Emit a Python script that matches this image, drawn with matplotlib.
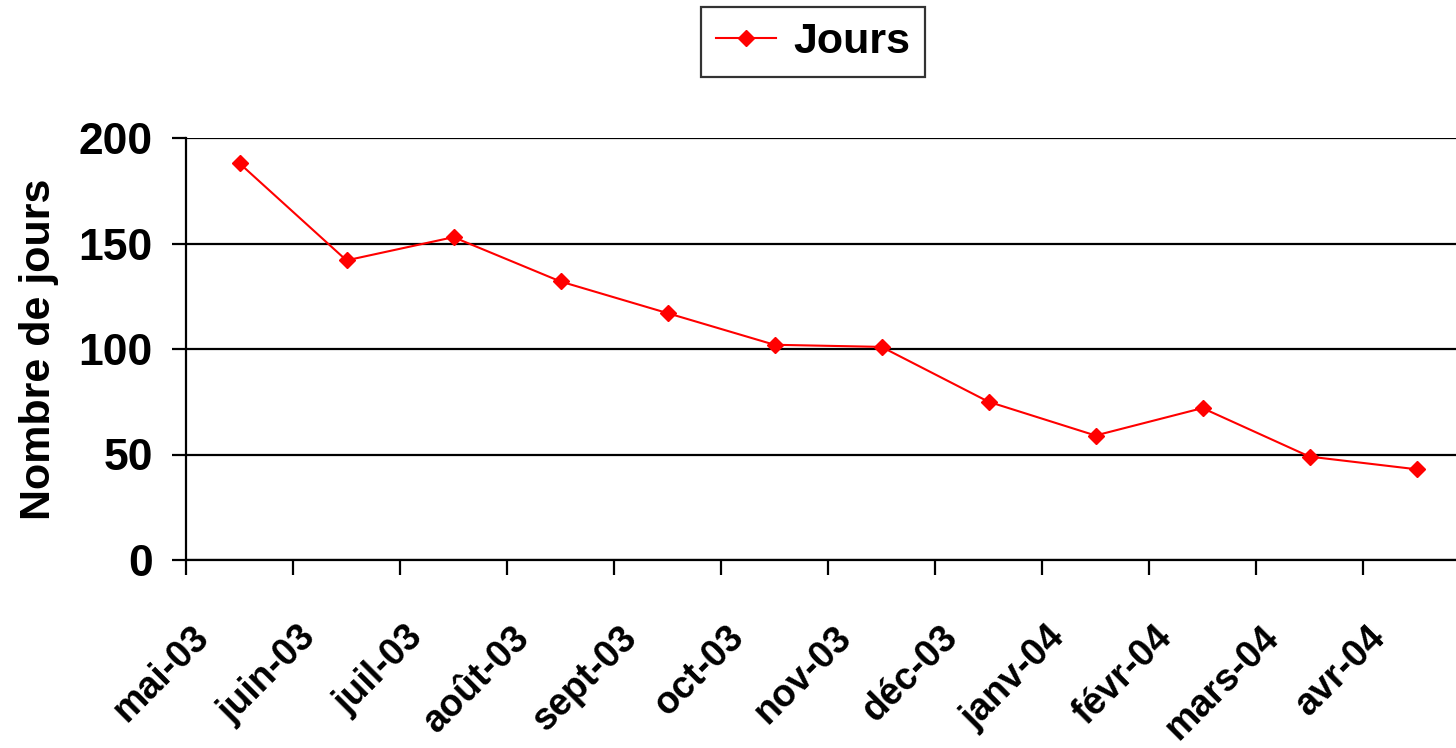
import matplotlib.pyplot as plt
import matplotlib.transforms as mtransforms

months = ["mai-03", "juin-03", "juil-03", "août-03", "sept-03", "oct-03",
          "nov-03", "déc-03", "janv-04", "févr-04", "mars-04", "avr-04"]
jours = [188, 142, 153, 132, 117, 102, 101, 75, 59, 72, 49, 43]

plt.rcParams['font.family'] = ['Liberation Sans', 'DejaVu Sans']
plt.rcParams['font.weight'] = 'bold'

W, H = 1456, 748
fig = plt.figure(figsize=(W / 100, H / 100), dpi=100)
ax = fig.add_axes([186 / W, (H - 560) / H, (W - 186) / W, (560 - 138) / H])

x = list(range(len(months)))
ax.plot(x, jours, color='red', lw=1.5, marker='D', markersize=8,
        label="Jours")

ax.set_xlim(-0.5, -0.5 + (W - 186) / 107)
ax.set_ylim(0, 200)
ax.set_yticks([0, 50, 100, 150, 200])
ax.grid(axis='y', color='black', lw=1.6)
ax.set_axisbelow(True)
for side in ['top', 'right']:
    ax.spines[side].set_visible(False)
ax.spines['left'].set_linewidth(1.6)
ax.spines['bottom'].set_linewidth(1.6)

ax.set_xticks([i - 0.5 for i in range(len(months))])
ax.set_xticklabels([])
ax.tick_params(axis='x', direction='out', length=11, width=1.6)
ax.tick_params(axis='y', direction='out', length=10, width=1.6,
               labelsize=32, pad=14)

offset = mtransforms.ScaledTranslation(-0.36, -0.72, fig.dpi_scale_trans)
trans = ax.get_xaxis_transform() + offset
for i, m in enumerate(months):
    ax.text(i, 0, m, transform=trans, rotation=45, rotation_mode='anchor',
            ha='right', va='center', fontsize=27, fontweight='bold')

ax.set_ylabel("Nombre de jours", fontsize=31, fontweight='bold', labelpad=14)

leg = fig.legend(loc='center', bbox_to_anchor=(813 / W, 1 - 42 / H),
                 fontsize=31, frameon=True, fancybox=False, handlelength=1.4,
                 borderpad=0.35, handletextpad=0.4)
leg.get_frame().set_edgecolor('black')
leg.get_frame().set_linewidth(1.6)

fig.savefig("out.png", dpi=100)
